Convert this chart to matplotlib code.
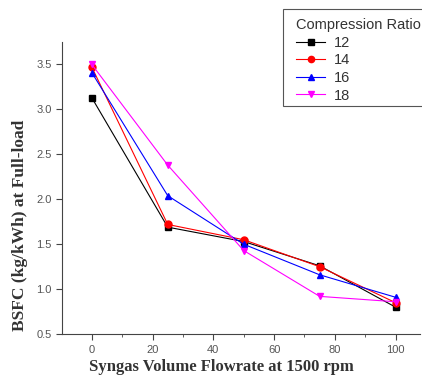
import matplotlib.pyplot as plt
from matplotlib.patches import Rectangle
from matplotlib.ticker import MultipleLocator

# syngas flowrate (%) and BSFC for each compression ratio
flowrate = [0, 25, 50, 75, 100]
bsfc_12 = [3.13, 1.69, 1.53, 1.26, 0.80]
bsfc_14 = [3.47, 1.72, 1.55, 1.25, 0.85]
bsfc_16 = [3.41, 2.04, 1.50, 1.16, 0.91]
bsfc_18 = [3.50, 2.38, 1.43, 0.92, 0.86]

series = [
    ("12", bsfc_12, "black", "s"),
    ("14", bsfc_14, "red", "o"),
    ("16", bsfc_16, "blue", "^"),
    ("18", bsfc_18, "magenta", "v"),
]

plt.rcParams['font.family'] = ['Liberation Sans', 'DejaVu Sans']

W, H = 422, 375
fig = plt.figure(figsize=(W / 100, H / 100), dpi=100)
ax = fig.add_axes([0.147, 0.109, 0.848, 0.779])

for name, vals, col, mk in series:
    ax.plot(flowrate, vals, color=col, marker=mk, markersize=5,
            linewidth=0.8, label=name)

ax.set_xlim(-9.8, 108)
ax.set_ylim(0.5, 3.75)
ax.xaxis.set_major_locator(MultipleLocator(20))
ax.xaxis.set_minor_locator(MultipleLocator(10))
ax.yaxis.set_major_locator(MultipleLocator(0.5))
ax.tick_params(axis='both', which='both', direction='out', labelsize=8,
               labelcolor='#555555', color='#444444')
ax.tick_params(which='major', length=4)
ax.tick_params(which='minor', length=2)
for s in ['top', 'right']:
    ax.spines[s].set_visible(False)
for s in ['left', 'bottom']:
    ax.spines[s].set_color('#444444')

ax.set_xlabel("Syngas Volume Flowrate at 1500 rpm", family='Liberation Serif',
              fontweight='bold', fontsize=12, color='#333333')
ax.xaxis.set_label_coords(0.4455, -0.085)
ax.set_ylabel("BSFC (kg/kWh) at Full-load", family='Liberation Serif',
              fontweight='bold', fontsize=12.5, color='#333333')
ax.yaxis.set_label_coords(-0.095, 0.373)

# legend box runs off the right edge of the figure
fig.add_artist(Rectangle((283 / W, 1 - 106 / H), 0.5, 97 / H,
                         transform=fig.transFigure, fill=True,
                         facecolor='white', edgecolor='#555555',
                         linewidth=0.8, zorder=2))
leg = fig.legend(loc='upper left', bbox_to_anchor=(296 / W, 1 - 18 / H),
                 borderaxespad=0, borderpad=0, frameon=False,
                 title="Compression Ratio", fontsize=10.5, title_fontsize=10.5,
                 handlelength=2.0, handletextpad=0.6, labelspacing=0.25,
                 markerscale=0.9)
leg.set_zorder(3)
leg._legend_box.align = "left"
for t in leg.get_texts():
    t.set_color('#333333')
leg.get_title().set_color('#333333')

fig.savefig("out.png", dpi=100)
